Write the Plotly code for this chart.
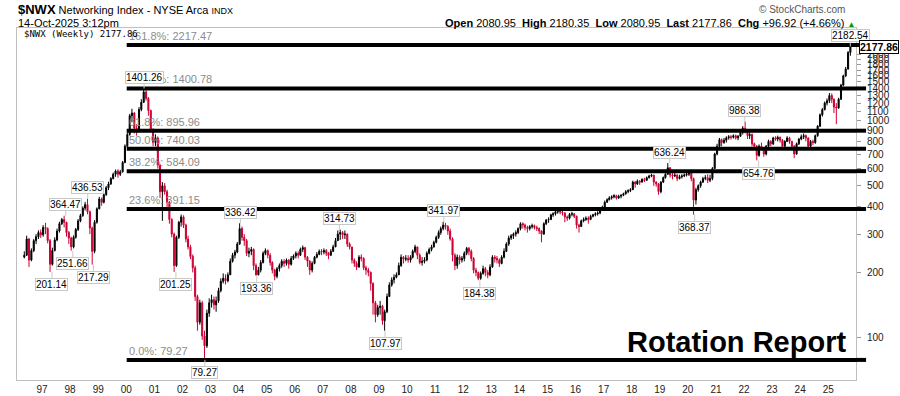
import numpy as np
import pandas as pd
import plotly.graph_objects as go

# ---------------- data (monthly) ----------------
first_month = "1996-05-01"

close = [
    240, 285, 228, 252, 280, 292, 305, 298,                                  # 1996 May-Dec
    322, 318, 280, 218, 252, 282, 310, 335, 350, 340, 305, 288,              # 1997
    262, 290, 315, 345, 365, 395, 410, 380, 320, 250, 340, 392,              # 1998
    435, 420, 455, 490, 510, 540, 565, 585, 565, 580, 640, 760,              # 1999
    860, 1050, 1080, 920, 890, 1120, 1210, 1350, 1260, 1110, 900, 790,       # 2000
    830, 620, 470, 500, 470, 420, 350, 300, 215, 290, 340, 360,              # 2001
    330, 285, 262, 237, 210, 155, 118, 145, 102, 92, 130, 145,               # 2002
    150, 142, 148, 165, 182, 188, 183, 195, 225, 240, 248, 270,              # 2003
    318, 290, 280, 245, 250, 255, 215, 195, 205, 222, 245, 252,              # 2004
    240, 222, 205, 192, 208, 215, 225, 220, 228, 218, 232, 238,              # 2005
    245, 240, 255, 260, 235, 225, 205, 220, 235, 242, 250, 248,              # 2006
    252, 245, 240, 250, 262, 280, 300, 305, 298, 300, 270, 262,              # 2007
    228, 220, 212, 235, 232, 210, 205, 200, 178, 145, 128, 138,              # 2008
    140, 120, 132, 155, 175, 185, 190, 195, 215, 235, 230, 232,              # 2009
    228, 235, 250, 262, 240, 222, 225, 228, 245, 255, 262, 275,              # 2010
    290, 305, 318, 330, 325, 310, 285, 240, 215, 235, 228, 232,              # 2011
    245, 258, 250, 232, 205, 200, 188, 198, 208, 200, 195, 212,              # 2012
    235, 232, 228, 220, 235, 250, 270, 288, 295, 300, 305, 318,              # 2013
    335, 330, 322, 318, 325, 328, 322, 318, 310, 300, 335, 348,              # 2014
    350, 368, 372, 380, 385, 378, 375, 360, 355, 370, 372, 362,              # 2015
    330, 325, 345, 350, 355, 350, 362, 368, 372, 375, 392, 400,              # 2016
    420, 432, 440, 445, 450, 440, 448, 452, 460, 470, 475, 480,              # 2017
    520, 510, 525, 520, 535, 530, 545, 555, 560, 520, 510, 470,              # 2018
    520, 545, 565, 605, 560, 555, 560, 540, 550, 555, 560, 565,              # 2019
    575, 540, 430, 480, 500, 520, 540, 545, 530, 540, 600, 700,              # 2020
    760, 815, 790, 810, 830, 840, 835, 850, 830, 845, 880, 920,              # 2021
    900, 850, 860, 780, 760, 690, 760, 740, 700, 760, 800, 780,              # 2022
    830, 820, 835, 810, 760, 800, 830, 800, 760, 700, 780, 820,              # 2023
    840, 850, 830, 760, 800, 790, 850, 940, 1060, 1120, 1200, 1230,          # 2024
    1300, 1250, 1150, 1140, 1250, 1450, 1600, 1720, 2050, 2177.86,           # 2025 Jan-Oct
]

high = [
    250, 295, 288, 258, 285, 300, 312, 315,
    330, 338, 322, 285, 260, 290, 318, 342, 356, 364.47, 342, 310,
    292, 296, 320, 352, 372, 402, 422, 436.53, 385, 325, 348, 398,
    445, 442, 462, 500, 522, 548, 575, 594, 596, 592, 650, 775,
    880, 1070, 1130, 1090, 960, 1150, 1250, 1401.26, 1380, 1280, 1120, 920,
    862, 840, 630, 520, 515, 480, 425, 355, 305, 295, 345, 369,
    366, 335, 295, 268, 242, 215, 158, 150, 148, 108, 135, 152,
    158, 155, 155, 170, 188, 198, 196, 200, 232, 246, 254, 276,
    336.42, 325, 300, 285, 260, 262, 258, 220, 212, 228, 250, 258,
    255, 245, 225, 208, 212, 220, 230, 230, 232, 230, 238, 242,
    250, 250, 260, 266, 262, 238, 228, 225, 238, 248, 255, 256,
    258, 256, 248, 256, 268, 288, 312, 314.73, 310, 312, 302, 275,
    262, 232, 225, 240, 242, 235, 215, 210, 202, 180, 148, 142,
    148, 142, 135, 160, 180, 190, 196, 200, 222, 242, 238, 240,
    240, 240, 255, 268, 262, 245, 235, 235, 250, 260, 268, 280,
    295, 312, 325, 341.97, 338, 330, 318, 290, 245, 242, 240, 238,
    250, 262, 262, 255, 235, 210, 202, 202, 215, 212, 205, 218,
    240, 240, 238, 232, 240, 258, 275, 295, 300, 305, 312, 322,
    340, 340, 335, 328, 330, 335, 332, 328, 322, 312, 340, 352,
    358, 372, 378, 386, 390, 388, 385, 378, 365, 375, 380, 375,
    365, 335, 350, 358, 362, 362, 368, 372, 378, 382, 398, 405,
    428, 438, 448, 452, 458, 455, 455, 458, 465, 478, 482, 488,
    528, 525, 535, 532, 542, 545, 552, 562, 568, 562, 525, 515,
    525, 552, 572, 636.24, 610, 575, 580, 565, 562, 565, 570, 575,
    590, 595, 545, 490, 508, 528, 550, 560, 565, 562, 610, 710,
    780, 830, 825, 830, 845, 855, 855, 862, 860, 855, 900, 940,
    986.38, 905, 880, 870, 790, 770, 775, 790, 750, 770, 815, 810,
    840, 845, 850, 842, 820, 810, 845, 840, 805, 770, 790, 830,
    860, 870, 860, 835, 812, 815, 860, 950, 1075, 1140, 1220, 1260,
    1335, 1330, 1260, 1200, 1270, 1470, 1620, 1760, 2080, 2182.54,
]

low = [
    232, 238, 212, 225, 248, 270, 285, 288,
    292, 300, 272, 201.14, 215, 250, 278, 305, 330, 322, 292, 270,
    251.66, 258, 286, 310, 340, 360, 385, 370, 300, 217.29, 245, 335,
    390, 405, 415, 450, 478, 505, 535, 550, 545, 555, 575, 635,
    750, 850, 980, 870, 850, 880, 1100, 1200, 1230, 1050, 880, 760,
    760, 600, 440, 345, 455, 400, 335, 290, 201.25, 212, 285, 325,
    320, 275, 255, 230, 200, 148, 108, 115, 98, 79.27, 90, 125,
    138, 135, 132, 145, 162, 178, 176, 180, 195, 222, 232, 245,
    268, 280, 265, 238, 235, 240, 205, 193.36, 194, 200, 220, 240,
    232, 215, 198, 184, 188, 202, 210, 212, 215, 208, 215, 228,
    232, 232, 238, 248, 228, 212, 195, 200, 218, 232, 240, 240,
    242, 238, 230, 238, 248, 262, 280, 282, 285, 285, 262, 255,
    220, 212, 205, 210, 225, 205, 195, 192, 165, 128, 118, 125,
    128, 115, 107.97, 130, 155, 172, 178, 188, 198, 212, 220, 225,
    222, 222, 232, 245, 230, 218, 215, 220, 225, 242, 250, 260,
    272, 285, 298, 312, 315, 298, 280, 225, 205, 208, 218, 222,
    225, 240, 240, 225, 198, 192, 184.38, 185, 195, 192, 188, 192,
    210, 222, 220, 212, 218, 232, 248, 265, 282, 285, 292, 300,
    312, 318, 312, 305, 312, 318, 315, 310, 300, 275, 298, 330,
    338, 348, 360, 365, 372, 370, 365, 340, 345, 350, 362, 355,
    318, 305, 325, 340, 345, 335, 348, 358, 362, 365, 370, 388,
    398, 418, 428, 432, 438, 432, 436, 438, 448, 455, 462, 468,
    478, 490, 505, 505, 518, 520, 528, 540, 548, 500, 495, 455,
    462, 515, 540, 562, 545, 535, 548, 525, 535, 540, 548, 552,
    555, 525, 368.37, 410, 470, 490, 515, 530, 515, 520, 530, 598,
    690, 745, 760, 780, 790, 815, 815, 825, 815, 810, 840, 860,
    870, 820, 820, 760, 730, 654.76, 680, 730, 680, 690, 750, 760,
    770, 805, 800, 790, 740, 750, 795, 780, 740, 670, 695, 770,
    810, 820, 800, 740, 750, 770, 780, 840, 930, 1040, 1110, 1170,
    1200, 1200, 1080, 960, 1130, 1240, 1440, 1580, 1710, 1980,
]

fib_levels = [2217.47, 1400.78, 895.96, 740.03, 584.09, 391.15, 79.27]
fib_names = ["161.8%", "100.0%", "61.8%", "50.0%", "38.2%", "23.6%", "0.0%"]
fib_start = "2000-01-07"

swing_dates = ["1997-05-10", "1997-11-05", "1998-02-05", "1998-08-18", "1998-10-30",
               "2000-08-20", "2001-10-08", "2002-10-20", "2004-01-25", "2004-08-25",
               "2007-08-05", "2009-03-20", "2011-04-25", "2012-08-05", "2019-05-10",
               "2020-03-30", "2022-01-10", "2022-07-10", "2025-10-14"]
swing_values = [201.14, 364.47, 251.66, 436.53, 217.29,
                1401.26, 201.25, 79.27, 336.42, 193.36,
                314.73, 107.97, 341.97, 184.38, 636.24,
                368.37, 986.38, 654.76, 2182.54]
swing_kind = ["low", "high", "low", "high", "low",
              "high", "low", "low", "high", "low",
              "high", "low", "high", "low", "high",
              "low", "high", "low", "high"]

last_price = 2177.86
year_ticks = [f"{y}-01-01" for y in range(1997, 2026)]
year_labels = ["97", "98", "99", "00", "01", "02", "03", "04", "05", "06", "07", "08",
               "09", "10", "11", "12", "13", "14", "15", "16", "17", "18", "19", "20",
               "21", "22", "23", "24", "25"]
price_ticks = [100, 200, 300, 400, 500, 600, 700, 800, 900, 1000, 1100, 1200,
               1300, 1400, 1500, 1600, 1700, 1800, 1900, 2000]

# ---------------- build ----------------
dates = pd.date_range(first_month, periods=len(close), freq="MS") + pd.Timedelta(days=14)
opens = [close[0] * 0.98] + close[:-1]

FONT = "Liberation Sans, Arial, sans-serif"
RED = "#cc0033"

fig = go.Figure()
fig.add_trace(go.Candlestick(
    x=dates, open=opens, high=high, low=low, close=close,
    increasing=dict(line=dict(color="black", width=1), fillcolor="black"),
    decreasing=dict(line=dict(color=RED, width=1), fillcolor=RED),
    whiskerwidth=0, hoverinfo="skip", showlegend=False,
))

shapes = []
annotations = []
for lvl, name in zip(fib_levels, fib_names):
    shapes.append(dict(type="line", xref="x", yref="y", x0=fib_start, x1="2026-06-01",
                       y0=lvl, y1=lvl, line=dict(color="black", width=4), layer="above"))
    shapes.append(dict(type="line", xref="paper", yref="y", x0=1.0, x1=1.012,
                       y0=lvl, y1=lvl, line=dict(color="black", width=4), layer="above"))
    annotations.append(dict(x=fib_start, y=np.log10(lvl), xref="x", yref="y",
                            text=f"{name}: {lvl:.2f}", showarrow=False,
                            xanchor="left", yanchor="bottom", yshift=1,
                            font=dict(family=FONT, size=11, color="#8c8c8c")))

for d, v, k in zip(swing_dates, swing_values, swing_kind):
    annotations.append(dict(x=d, y=np.log10(v), xref="x", yref="y",
                            text=f"{v:.2f}", showarrow=True, arrowhead=0,
                            arrowwidth=1, arrowcolor="#c8c8c8",
                            ax=0, ay=(-11 if k == "high" else 13),
                            bgcolor="white", bordercolor="#c8c8c8", borderwidth=1,
                            borderpad=0,
                            font=dict(family=FONT, size=10, color="black")))

# last price tag
annotations.append(dict(x=1, y=np.log10(last_price), xref="paper", yref="y",
                        text=f"<b>{last_price:.2f}</b>", showarrow=False,
                        xanchor="left", yanchor="middle", xshift=3,
                        bgcolor="white", bordercolor="black", borderwidth=1, borderpad=0,
                        font=dict(family=FONT, size=10.5, color="black")))

def px_x(p):
    return (p - 17) / 839.0

def px_y(p):
    return (380 - p) / 352.0

annotations += [
    dict(x=px_x(16), y=px_y(9), xref="paper", yref="paper", xanchor="left", yanchor="middle",
         showarrow=False,
         text=("<b><span style='font-size:13px'>$NWX</span></b> Networking Index - NYSE Arca "
               "<span style='font-size:9px'>INDX</span>"),
         font=dict(family=FONT, size=11, color="black")),
    dict(x=px_x(16), y=px_y(23), xref="paper", yref="paper", xanchor="left", yanchor="middle",
         showarrow=False, text="14-Oct-2025 3:12pm",
         font=dict(family=FONT, size=11, color="black")),
    dict(x=px_x(22), y=px_y(34), xref="paper", yref="paper", xanchor="left", yanchor="middle",
         showarrow=False, text="$NWX (Weekly) 2177.86",
         font=dict(family="DejaVu Sans Mono, monospace", size=9, color="black")),
    dict(x=px_x(847), y=px_y(9), xref="paper", yref="paper", xanchor="right", yanchor="middle",
         showarrow=False, text="© StockCharts.com",
         font=dict(family=FONT, size=10, color="#555555")),
    dict(x=px_x(857), y=px_y(23), xref="paper", yref="paper", xanchor="right", yanchor="middle",
         showarrow=False,
         text=("<b>Open</b> 2080.95  <b>High</b> 2180.35  <b>Low</b> 2080.95  "
               "<b>Last</b> 2177.86  <b>Chg</b> +96.92 (+4.66%) "
               "<span style='color:#009900;font-size:8px'>▲</span>"),
         font=dict(family=FONT, size=11, color="black")),
    dict(x=px_x(736), y=px_y(342), xref="paper", yref="paper", xanchor="center", yanchor="middle",
         showarrow=False, text="<b>Rotation Report</b>",
         font=dict(family=FONT, size=29, color="black")),
]

fig.update_layout(
    width=900, height=396,
    margin=dict(l=17, r=44, t=28, b=16, autoexpand=False),
    paper_bgcolor="white", plot_bgcolor="white",
    showlegend=False,
    shapes=shapes, annotations=annotations,
    xaxis=dict(
        type="date", range=["1996-02-10", "2025-12-27"],
        rangeslider=dict(visible=False),
        tickmode="array", tickvals=year_ticks, ticktext=year_labels,
        showgrid=False, zeroline=False,
        showline=True, linecolor="#c0c0c0", linewidth=1, mirror=True,
        ticks="", tickfont=dict(family=FONT, size=10, color="#222222"),
        automargin=False,
    ),
    yaxis=dict(
        type="log", side="right",
        range=[np.log10(64.1), np.log10(2655)],
        tickmode="array", tickvals=price_ticks, ticktext=[str(t) for t in price_ticks],
        showgrid=False, zeroline=False,
        showline=True, linecolor="#c0c0c0", linewidth=1, mirror=True,
        ticks="outside", ticklen=4, tickcolor="#999999", ticklabelstandoff=4,
        tickfont=dict(family=FONT, size=10, color="#222222"),
        automargin=False,
    ),
)

fig.write_html("out.html",
               config={"displayModeBar": False},
               post_script="document.body.style.margin='0';document.body.style.overflow='hidden';")
